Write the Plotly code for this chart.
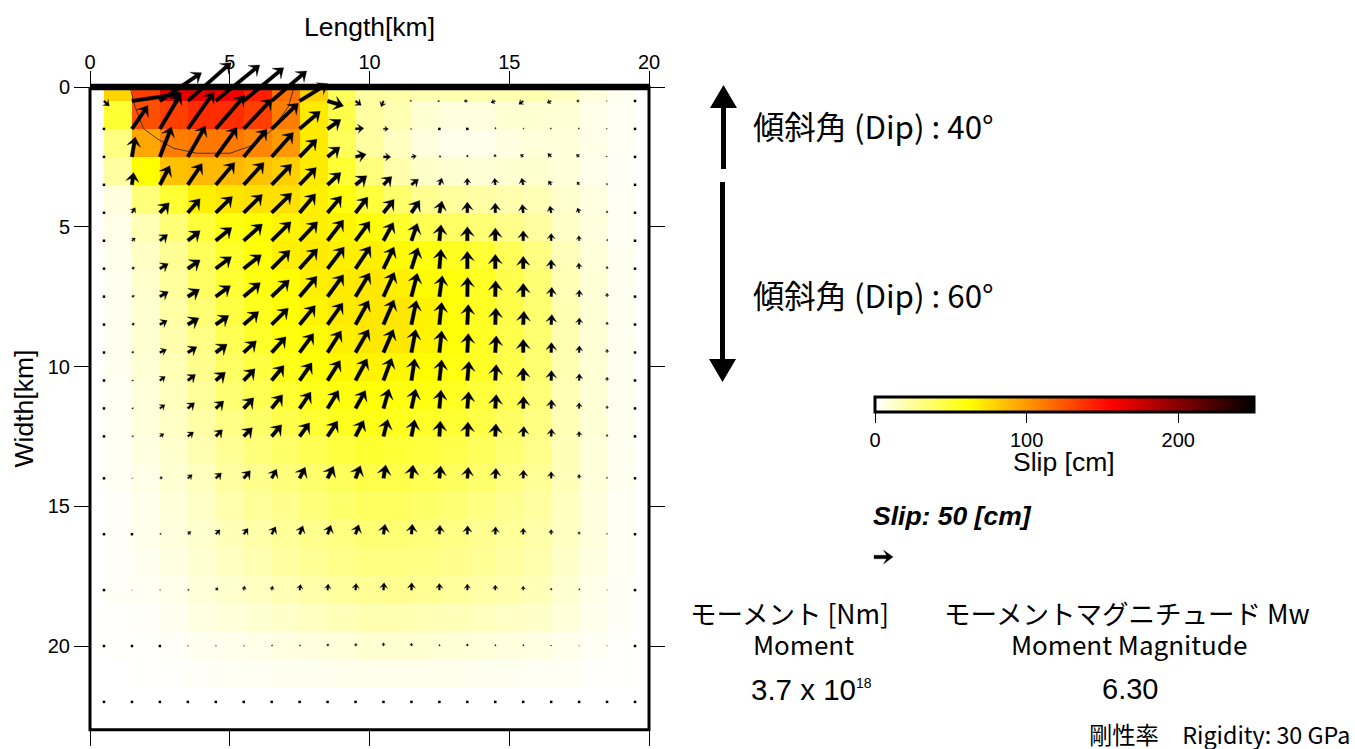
import numpy as np
import plotly.graph_objects as go

# ---------- data ----------
node_x = [i + 0.5 for i in range(20)]
node_y = [0.5, 1.5, 2.5, 3.5, 4.5, 5.5, 6.5, 7.5, 8.5, 9.5, 10.5, 11.5, 12.5, 14, 16, 18, 20, 22]

# arrow components per node (rows = node_y, columns = node_x), in read-off units
east_read = [
    [16, 150, 125, 130, 132, 120, 105, 85, 48, 17, -7, -5, -5, -10, -13, -13, -12, -8, -2, 0],
    [0, 48, 63, 78, 87, 85, 80, 62, 40, 25, 15, -3, 0, 0, 0, 3, -3, -3, -2, 0],
    [0, 10, 35, 53, 64, 70, 65, 52, 37, 32, 22, 15, 5, 0, -2, -8, -10, -8, -2, 0],
    [0, 5, 30, 43, 57, 61, 60, 50, 40, 34, 25, 21, 8, 0, -2, -5, -8, -6, -2, 0],
    [0, 10, 28, 37, 50, 56, 60, 48, 42, 37, 32, 25, 8, 0, 0, -3, -4, -5, 0, 0],
    [0, 10, 23, 37, 48, 56, 58, 54, 48, 43, 30, 18, 5, 0, 0, 0, 0, -1, 0, 0],
    [0, 8, 25, 37, 47, 53, 55, 54, 50, 45, 32, 20, 5, 0, 0, 0, 0, -1, 0, 0],
    [0, 8, 25, 35, 44, 50, 53, 52, 48, 43, 33, 18, 9, 1, 1, 0, 2, 1, 0, 0],
    [0, 8, 22, 33, 39, 45, 50, 47, 46, 40, 32, 15, 7, 3, 2, 2, 2, 1, 0, 0],
    [0, 6, 20, 27, 34, 38, 43, 42, 41, 40, 30, 13, 7, 3, 3, 0, 1, 1, 0, 0],
    [0, 5, 16, 23, 29, 34, 37, 37, 38, 35, 25, 10, 7, 5, 3, 0, 1, 1, 0, 0],
    [0, 5, 15, 20, 24, 30, 33, 34, 33, 30, 17, 13, 5, 4, 3, 1, 1, 0, 0, 0],
    [0, 5, 12, 17, 20, 26, 30, 30, 30, 25, 13, 10, 3, 2, 2, 2, 1, 0, 0, 0],
    [0, 2, 8, 13, 17, 20, 15, 17, 18, 15, 7, 5, 4, 3, 2, 1, 0, 0, 0, 0],
    [0, 0, 4, 9, 13, 13, 12, 10, 10, 10, 5, 3, 2, 1, 1, 0, 0, 0, 0, 0],
    [0, 1, 2, 4, 7, 3, 3, 3, 2, 2, 2, 1, 0, 0, 0, 0, 0, 0, 0, 0],
    [0, 0, 0, 2, 2, 2, 2, 2, 2, 2, 0, 0, 0, 0, 0, 0, 0, 0, 0, 0],
    [0] * 20,
]
up_read = [
    [-15, 22, 85, 115, 108, 100, 90, 52, -15, -13, -17, 0, -2, 0, -5, -10, -6, 0, 0, 0],
    [0, 70, 105, 110, 100, 90, 77, 53, 28, 2, 0, 0, 0, 0, 5, 2, 3, 3, 2, 0],
    [0, 60, 90, 93, 88, 83, 73, 53, 30, 8, 0, 3, 3, 6, 8, 8, 10, 8, 3, 0],
    [0, 37, 57, 64, 67, 67, 62, 52, 37, 27, 25, 17, 20, 20, 20, 20, 12, 9, 5, 0],
    [0, 15, 30, 42, 49, 55, 59, 57, 50, 47, 40, 37, 35, 32, 29, 25, 20, 14, 6, 0],
    [0, 8, 19, 30, 40, 50, 57, 57, 62, 58, 55, 52, 48, 42, 38, 30, 22, 15, 5, 0],
    [0, 4, 15, 26, 36, 42, 55, 60, 65, 67, 65, 63, 58, 52, 43, 37, 27, 17, 7, 0],
    [0, 3, 15, 22, 33, 42, 50, 61, 66, 71, 73, 70, 63, 58, 48, 40, 28, 20, 10, 0],
    [0, 3, 12, 20, 27, 39, 49, 57, 65, 72, 74, 72, 67, 60, 50, 40, 30, 20, 8, 0],
    [0, 2, 9, 17, 25, 35, 47, 57, 65, 69, 69, 69, 65, 57, 50, 40, 30, 20, 10, 0],
    [0, 1, 12, 18, 25, 35, 45, 53, 60, 65, 67, 65, 62, 57, 48, 38, 30, 20, 10, 0],
    [0, 2, 11, 17, 22, 32, 41, 49, 54, 54, 58, 58, 55, 50, 42, 36, 26, 17, 8, 0],
    [0, 2, 8, 13, 20, 26, 35, 41, 46, 48, 51, 50, 46, 43, 38, 30, 23, 15, 6, 0],
    [0, 0, 3, 11, 16, 23, 27, 33, 36, 38, 40, 40, 37, 33, 30, 25, 20, 12, 4, 0],
    [0, 0, 3, 8, 13, 17, 22, 25, 27, 28, 30, 30, 27, 25, 22, 18, 14, 8, 3, 0],
    [0, 0, 1, 3, 7, 12, 12, 17, 18, 20, 22, 22, 20, 18, 15, 12, 6, 5, 1, 0],
    [0, 0, 0, 1, 1, 1, 4, 4, 7, 8, 10, 9, 5, 7, 5, 5, 3, 1, 1, 0],
    [0] * 20,
]

# slip per sub-fault cell [cm]
cell_x_edges = [i + 0.5 for i in range(20)]
cell_y_edges = [0] + [i + 0.5 for i in range(22)]
slip_cm = [
    [78, 133, 165, 165, 160, 145, 115, 80, 40, 23, 22, 19, 19, 19, 19, 19, 15, 8, 4],
    [50, 127, 133, 140, 140, 133, 110, 70, 44, 23, 19, 11, 8, 8, 11, 11, 10, 6, 3],
    [31, 95, 110, 112, 112, 107, 100, 70, 40, 23, 15, 8, 5, 5, 7, 9, 9, 6, 3],
    [23, 63, 85, 88, 88, 85, 80, 70, 50, 32, 20, 13, 11, 10, 11, 12, 9, 5, 2],
    [8, 32, 50, 68, 72, 74, 74, 68, 59, 48, 36, 27, 24, 22, 20, 18, 12, 7, 3],
    [6, 18, 33, 48, 58, 63, 66, 68, 66, 60, 52, 42, 38, 34, 29, 23, 14, 8, 3],
    [5, 14, 26, 40, 52, 60, 68, 70, 68, 68, 64, 59, 55, 50, 41, 31, 17, 9, 4],
    [4, 12, 24, 38, 50, 58, 63, 68, 70, 71, 68, 64, 60, 54, 44, 34, 18, 10, 4],
    [4, 11, 22, 34, 46, 55, 62, 66, 70, 71, 71, 67, 60, 54, 44, 35, 19, 10, 4],
    [4, 11, 20, 30, 42, 52, 59, 63, 68, 71, 71, 67, 60, 54, 44, 35, 19, 10, 4],
    [4, 10, 18, 28, 38, 46, 56, 61, 65, 67, 65, 63, 58, 53, 44, 35, 19, 10, 4],
    [3, 9, 16, 25, 34, 42, 50, 56, 59, 61, 59, 58, 54, 48, 42, 33, 18, 10, 4],
    [3, 8, 14, 22, 30, 37, 44, 50, 55, 57, 55, 53, 50, 45, 38, 31, 18, 10, 4],
    [3, 7, 12, 19, 26, 32, 37, 42, 47, 51, 49, 47, 44, 40, 35, 29, 17, 9, 4],
    [3, 6, 11, 16, 23, 28, 32, 36, 40, 44, 44, 42, 39, 36, 31, 26, 17, 9, 4],
    [2, 5, 9, 14, 20, 25, 28, 32, 36, 39, 39, 37, 34, 31, 27, 23, 16, 8, 3],
    [2, 5, 8, 12, 17, 21, 25, 28, 31, 34, 34, 32, 30, 27, 25, 21, 15, 8, 3],
    [2, 4, 7, 11, 15, 19, 23, 26, 29, 31, 31, 30, 28, 26, 23, 20, 13, 7, 3],
    [2, 3, 5, 9, 12, 15, 18, 21, 24, 26, 27, 26, 24, 22, 20, 17, 11, 6, 2],
    [1, 2, 4, 7, 9, 11, 13, 15, 17, 19, 19, 18, 17, 16, 14, 13, 9, 5, 2],
    [1, 1, 2, 4, 5, 6, 7, 8, 9, 11, 11, 11, 10, 9, 8, 7, 5, 3, 1],
    [0, 1, 1, 2, 3, 3, 4, 4, 5, 5, 5, 5, 5, 4, 4, 3, 3, 1, 1],
]

contour_x = [1.46, 1.61, 1.91, 2.39, 2.98, 3.82, 5.01, 5.84, 6.50, 7.10, 7.27]
contour_y = [0.11, 0.70, 1.48, 1.84, 2.19, 2.37, 2.37, 2.08, 1.54, 0.70, 0.11]

x_ticks = [0, 5, 10, 15, 20]
y_ticks = [0, 5, 10, 15, 20]
frame_x = [0, 20, 20, 0, 0]
frame_y = [0, 0, 23, 23, 0]
legend_slip_cm = 50

# ---------- layout geometry ----------
FONT = "Liberation Sans"
CJK = "Noto Sans CJK JP"
W, H = 1355, 749
PX_LEFT, PX_RIGHT, PX_TOP, PX_BOTTOM = 90, 649, 87, 730
PX_PER_KM = (PX_RIGHT - PX_LEFT) / 20
CM_PER_READ = 0.877
PX_PER_CM = 0.38


def pxx(px):
    return px / W


def pxy(py):
    return 1 - py / H


def arrow_poly(x0, y0, east_cm, up_cm):
    """Closed outline of one arrow, in km, for a vector given in cm."""
    L = np.hypot(east_cm, up_cm) * PX_PER_CM
    ux, uy = east_cm * PX_PER_CM / L, -up_cm * PX_PER_CM / L
    px_, py_ = -uy, ux
    f = min(1.0, L / 13.0)
    sw = max(0.9, 3.6 * f)
    hw, hl, neck = 14.0 * f, 9.5 * f, 6.5 * f
    outline = [
        (0, sw / 2), (L - neck, sw / 2), (L - hl, hw / 2), (L, 0),
        (L - hl, -hw / 2), (L - neck, -sw / 2), (0, -sw / 2), (0, sw / 2),
    ]
    xs = [x0 + (a * ux + b * px_) / PX_PER_KM for a, b in outline]
    ys = [y0 + (a * uy + b * py_) / PX_PER_KM for a, b in outline]
    return xs, ys


ax, ay, dot_x, dot_y = [], [], [], []
for j, yy in enumerate(node_y):
    for i, xx in enumerate(node_x):
        e, u = east_read[j][i] * CM_PER_READ, up_read[j][i] * CM_PER_READ
        if e == 0 and u == 0:
            dot_x.append(xx)
            dot_y.append(yy)
            continue
        xs, ys = arrow_poly(xx, yy, e, u)
        ax += xs + [None]
        ay += ys + [None]

# legend arrow, drawn with the same scale
xs, ys = arrow_poly((874 - PX_LEFT) / PX_PER_KM, (557 - PX_TOP) / PX_PER_KM, legend_slip_cm, 0)
ax += xs + [None]
ay += ys + [None]

hot = [[0, "#ffffff"], [0.25, "#ffff00"], [0.625, "#ff0000"], [1, "#000000"]]

fig = go.Figure()
fig.add_trace(go.Heatmap(
    x=cell_x_edges, y=cell_y_edges, z=slip_cm, zmin=0, zmax=250, colorscale=hot,
    hoverinfo="skip",
    colorbar=dict(
        orientation="h", lenmode="pixels", len=379, thicknessmode="pixels", thickness=15,
        x=pxx(875), xanchor="left", y=pxy(397), yanchor="top", xpad=0, ypad=0,
        outlinecolor="black", outlinewidth=3, borderwidth=0,
        tickmode="array", tickvals=[0, 100, 200], ticktext=["0", "100", "200"],
        ticks="outside", ticklen=10, tickwidth=1, tickcolor="black",
        tickfont=dict(family=FONT, size=20, color="black"),
    ),
))
fig.add_trace(go.Scatter(x=contour_x, y=contour_y, mode="lines",
                         line=dict(color="#222222", width=0.8), hoverinfo="skip", showlegend=False))
# These share the km scale on a full-page overlay, so that arrows can cross the frame.
fig.add_trace(go.Scatter(x=frame_x, y=frame_y, mode="lines", line=dict(color="black", width=3),
                         xaxis="x2", yaxis="y2", hoverinfo="skip", showlegend=False))
fig.add_trace(go.Scatter(x=[0, 20], y=[0, 0], mode="lines", line=dict(color="black", width=6.5),
                         xaxis="x2", yaxis="y2", hoverinfo="skip", showlegend=False))
fig.add_trace(go.Scatter(x=ax, y=ay, mode="lines", fill="toself", fillcolor="black",
                         line=dict(color="black", width=0.3), xaxis="x2", yaxis="y2",
                         hoverinfo="skip", showlegend=False))
fig.add_trace(go.Scatter(x=dot_x, y=dot_y, mode="markers", xaxis="x2", yaxis="y2",
                         marker=dict(symbol="square", size=2.5, color="black", line=dict(width=0)),
                         hoverinfo="skip", showlegend=False))


def note(text, px, py, size=20, family=CJK, anchor="center", **kw):
    fig.add_annotation(text=text, xref="paper", yref="paper", x=pxx(px), y=pxy(py), showarrow=False,
                       xanchor=anchor, yanchor="middle", font=dict(family=family, size=size, color="black"), **kw)


note("傾斜角 (Dip) : 40°", 751, 125, size=31.3, anchor="left")
note("傾斜角 (Dip) : 60°", 751, 294, size=31.3, anchor="left")
note("Slip [cm]", 1064, 462, size=26.5, family=FONT)
note("<b><i>Slip: 50 [cm]</i></b>", 871, 516, size=26.5, family=FONT, anchor="left")
note("モーメント [Nm]", 789, 612, size=26.5)
note("Moment", 803, 643, size=26)
note("3.7 x 10<sup><span style='font-size:14px'>18</span></sup>", 811.5, 689, size=29.5, family=FONT)
note("モーメントマグニチュード Mw", 1127, 612, size=26.5)
note("Moment Magnitude", 1129, 643, size=26)
note("6.30", 1130, 689, size=29, family=FONT)
note("剛性率　Rigidity: 30 GPa", 1352, 734, size=23.3, anchor="right")


def big_arrow(x_c, y_tail, y_base, y_tip):
    path = (f"M{pxx(x_c-2.5)},{pxy(y_tail)} L{pxx(x_c-2.5)},{pxy(y_base)} L{pxx(x_c-13.5)},{pxy(y_base)} "
            f"L{pxx(x_c)},{pxy(y_tip)} L{pxx(x_c+13.5)},{pxy(y_base)} L{pxx(x_c+2.5)},{pxy(y_base)} "
            f"L{pxx(x_c+2.5)},{pxy(y_tail)} Z")
    fig.add_shape(type="path", path=path, xref="paper", yref="paper", fillcolor="black",
                  line=dict(width=0), layer="above")


big_arrow(723.5, 169, 108, 85)
big_arrow(722.5, 182, 359, 382)

axis_common = dict(showgrid=False, zeroline=False, showline=False,
                   mirror="ticks", ticks="outside", ticklen=15, tickwidth=1.2, tickcolor="black",
                   tickfont=dict(family=FONT, size=20, color="black"), tickmode="array")
fig.update_layout(
    width=W, height=H, plot_bgcolor="rgba(0,0,0,0)", paper_bgcolor="white", showlegend=False,
    margin=dict(l=0, r=0, t=0, b=0, pad=0, autoexpand=False),
    xaxis=dict(range=[0, 20], side="top", tickvals=x_ticks, ticklabelstandoff=-6,
               domain=[pxx(PX_LEFT), pxx(PX_RIGHT)], anchor="y",
               title=dict(text="Length[km]", standoff=6, font=dict(family=FONT, size=26.5, color="black")),
               **axis_common),
    yaxis=dict(range=[23, 0], tickvals=y_ticks,
               domain=[pxy(PX_BOTTOM), pxy(PX_TOP)], anchor="x",
               title=dict(text="Width[km]", standoff=6, font=dict(family=FONT, size=26.5, color="black")),
               **axis_common),
    xaxis2=dict(domain=[0, 1], anchor="y2", visible=False,
                range=[-PX_LEFT / PX_PER_KM, (W - PX_LEFT) / PX_PER_KM]),
    yaxis2=dict(domain=[0, 1], anchor="x2", visible=False,
                range=[(H - PX_TOP) / PX_PER_KM, -PX_TOP / PX_PER_KM]),
)
fig.write_html("out.html", config={"displayModeBar": False},
               post_script="document.body.style.margin='0';document.documentElement.style.overflow='hidden';")
